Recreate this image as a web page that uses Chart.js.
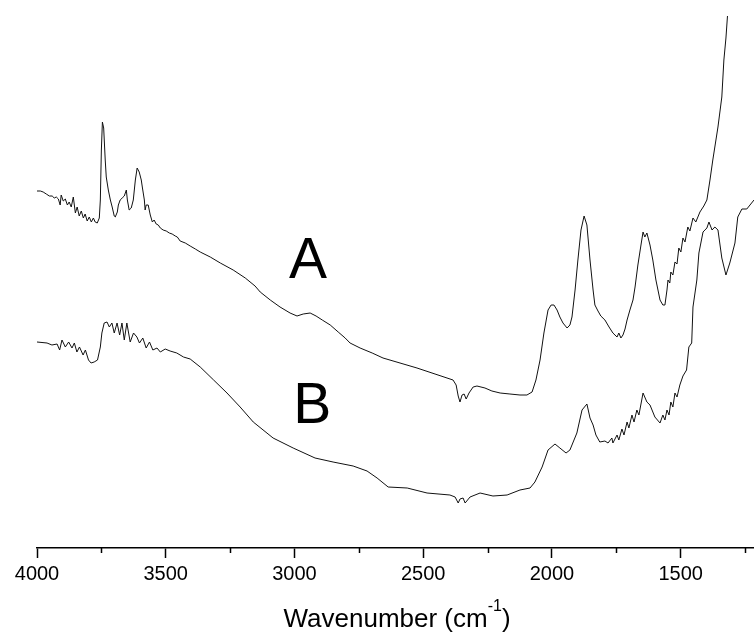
<!DOCTYPE html>
<html>
<head>
<meta charset="utf-8">
<script src="https://cdn.jsdelivr.net/npm/chart.js@4.4.1/dist/chart.umd.min.js"></script>
<style>
  html, body { margin: 0; padding: 0; background: #fff; }
  canvas { display: block; }
</style>
</head>
<body>
<canvas id="irChart" width="754" height="635"></canvas>
<script>
// --- 光譜數據 (wavenumber, a.u.) ---
const waveA = [4000,3987,3976,3964,3952,3941,3933,3925,3917,3910,3906,3898,3890,3882,3875,3867,3859,3851,3844,3836,3828,3820,3813,3805,3797,3789,3781,3774,3766,3758,3754,3750,3746,3741,3735,3731,3723,3715,3708,3700,3696,3688,3684,3677,3669,3661,3653,3649,3642,3634,3626,3618,3611,3603,3595,3591,3583,3580,3576,3568,3560,3552,3545,3537,3529,3521,3510,3498,3486,3475,3463,3455,3444,3424,3405,3385,3366,3327,3288,3238,3191,3153,3133,3094,3056,3017,2990,2966,2939,2916,2892,2861,2830,2803,2784,2745,2698,2656,2590,2524,2454,2384,2372,2364,2357,2349,2341,2333,2322,2306,2291,2260,2233,2201,2163,2124,2097,2077,2062,2046,2031,2015,2003,1992,1980,1969,1957,1941,1930,1922,1910,1899,1887,1875,1864,1852,1840,1833,1821,1810,1794,1778,1763,1747,1740,1732,1724,1716,1708,1697,1685,1677,1666,1654,1646,1639,1631,1619,1608,1596,1580,1569,1561,1553,1549,1542,1538,1530,1522,1514,1507,1499,1491,1483,1472,1464,1452,1441,1425,1410,1398,1386,1375,1355,1340,1332,1324,1318];
const absA = [3.57,3.57,3.56,3.54,3.52,3.52,3.50,3.51,3.49,3.43,3.53,3.47,3.49,3.43,3.46,3.41,3.51,3.35,3.41,3.32,3.37,3.30,3.34,3.27,3.31,3.26,3.30,3.26,3.25,3.30,3.48,3.98,4.26,4.20,3.88,3.71,3.58,3.48,3.41,3.32,3.31,3.36,3.43,3.48,3.50,3.52,3.58,3.48,3.38,3.40,3.48,3.68,3.80,3.76,3.68,3.61,3.48,3.38,3.43,3.43,3.33,3.26,3.28,3.24,3.23,3.20,3.18,3.17,3.15,3.14,3.12,3.11,3.07,3.05,3.02,2.99,2.96,2.91,2.85,2.78,2.70,2.62,2.56,2.48,2.41,2.35,2.32,2.34,2.35,2.32,2.28,2.23,2.16,2.10,2.05,2.00,1.95,1.90,1.85,1.80,1.74,1.68,1.63,1.52,1.46,1.53,1.54,1.49,1.55,1.61,1.62,1.60,1.57,1.55,1.54,1.53,1.53,1.56,1.68,1.88,2.15,2.38,2.43,2.43,2.38,2.31,2.25,2.20,2.23,2.31,2.58,2.88,3.18,3.32,3.23,2.88,2.58,2.43,2.37,2.32,2.28,2.21,2.15,2.11,2.15,2.10,2.13,2.19,2.28,2.38,2.48,2.61,2.83,3.03,3.16,3.11,3.15,3.03,2.88,2.68,2.48,2.43,2.43,2.58,2.68,2.65,2.76,2.73,2.86,2.84,3.00,2.96,3.10,3.06,3.21,3.17,3.30,3.26,3.36,3.42,3.48,3.68,3.88,4.21,4.51,4.88,5.10,5.32];

const waveB = [4000,3961,3942,3922,3912,3903,3890,3877,3864,3855,3845,3835,3821,3812,3800,3790,3778,3765,3754,3748,3739,3728,3719,3709,3700,3689,3679,3670,3661,3651,3638,3625,3612,3602,3589,3576,3563,3550,3534,3521,3502,3483,3457,3431,3405,3366,3314,3262,3211,3160,3083,3005,2920,2850,2772,2718,2679,2636,2562,2485,2396,2376,2364,2357,2345,2337,2318,2279,2229,2174,2124,2085,2066,2038,2015,1988,1969,1945,1930,1903,1883,1864,1852,1840,1829,1814,1794,1782,1767,1763,1747,1740,1728,1720,1708,1701,1689,1681,1670,1662,1646,1631,1619,1600,1580,1569,1561,1553,1545,1538,1530,1522,1514,1503,1491,1477,1468,1457,1452,1437,1429,1413,1398,1390,1378,1367,1355,1340,1324,1309,1289,1278,1262,1243,1215];
const absB = [2.06,2.05,2.03,2.04,1.98,2.08,2.01,2.06,2.00,2.05,1.96,2.01,1.93,1.98,1.88,1.85,1.86,1.88,2.01,2.15,2.25,2.26,2.21,2.25,2.15,2.25,2.13,2.25,2.08,2.25,2.06,2.15,2.11,2.05,2.10,2.00,2.06,1.98,2.00,1.96,1.99,1.97,1.95,1.91,1.89,1.81,1.68,1.55,1.41,1.26,1.10,1.00,0.90,0.86,0.82,0.77,0.70,0.61,0.60,0.55,0.53,0.51,0.45,0.49,0.50,0.45,0.51,0.55,0.52,0.53,0.58,0.60,0.66,0.81,0.98,1.04,1.00,0.95,0.98,1.15,1.38,1.44,1.30,1.23,1.13,1.06,1.07,1.05,1.10,1.05,1.13,1.08,1.19,1.13,1.26,1.20,1.33,1.26,1.38,1.33,1.55,1.46,1.43,1.31,1.25,1.33,1.28,1.38,1.33,1.46,1.41,1.55,1.51,1.63,1.72,1.78,2.01,2.05,2.41,2.68,2.95,3.16,3.20,3.26,3.18,3.21,3.18,2.90,2.73,2.85,3.05,3.31,3.39,3.39,3.48];

// 曲線標籤 A / B
const curveLabels = ['A', 'B'];
const labelWave = [2947, 2931];
const labelAbs = [2.70, 1.25];

// 主刻度與次刻度
const majorTicks = [4000, 3500, 3000, 2500, 2000, 1500];
const minorTicks = [3750, 3250, 2750, 2250, 1750, 1250];

const FONT = "'Liberation Sans', Arial, sans-serif";

const toPoints = (xs, ys) => xs.map((x, i) => ({ x: x, y: ys[i] }));

// --- 自訂繪圖: 次刻度, A/B 標籤, 軸標題 ---
const extrasPlugin = {
    id: 'extras',
    afterDraw(chart) {
        const c = chart.ctx;
        const xs = chart.scales.x;
        const ys = chart.scales.y;
        const axisY = xs.top;

        // 次刻度
        c.save();
        c.strokeStyle = '#000';
        c.lineWidth = 1.5;
        minorTicks.forEach(v => {
            const px = Math.round(xs.getPixelForValue(v)) + 0.5;
            c.beginPath();
            c.moveTo(px, axisY);
            c.lineTo(px, axisY + 5);
            c.stroke();
        });

        // A / B
        c.fillStyle = '#000';
        c.font = '57px ' + FONT;
        c.textAlign = 'center';
        c.textBaseline = 'alphabetic';
        curveLabels.forEach((t, i) => {
            c.fillText(t, xs.getPixelForValue(labelWave[i]), ys.getPixelForValue(labelAbs[i]));
        });

        // 軸標題 Wavenumber (cm-1)
        const mainFont = '26px ' + FONT;
        const supFont = '16px ' + FONT;
        const part1 = 'Wavenumber (cm';
        const sup = '-1';
        const part2 = ')';
        c.font = mainFont;
        const w1 = c.measureText(part1).width;
        const w3 = c.measureText(part2).width;
        c.font = supFont;
        const w2 = c.measureText(sup).width;
        const total = w1 + w2 + w3;
        let x0 = 397 - total / 2;
        const base = 627;
        c.textAlign = 'left';
        c.font = mainFont;
        c.fillText(part1, x0, base);
        c.font = supFont;
        c.fillText(sup, x0 + w1, base - 16);
        c.font = mainFont;
        c.fillText(part2, x0 + w1 + w2, base);
        c.restore();
    }
};

const chart = new Chart(document.getElementById('irChart'), {
    type: 'line',
    data: {
        datasets: [
            { label: 'A', data: toPoints(waveA, absA), borderColor: '#111', borderWidth: 1, pointRadius: 0, tension: 0, fill: false },
            { label: 'B', data: toPoints(waveB, absB), borderColor: '#111', borderWidth: 1, pointRadius: 0, tension: 0, fill: false }
        ]
    },
    options: {
        responsive: false,
        devicePixelRatio: 1,
        animation: false,
        layout: { padding: { left: 37, right: 0, top: 16, bottom: 45 } },
        plugins: {
            legend: { display: false },
            tooltip: { enabled: false }
        },
        scales: {
            x: {
                type: 'linear',
                reverse: true,
                min: 1215,
                max: 4000,
                afterBuildTicks: (scale) => {
                    scale.ticks = majorTicks.map(v => ({ value: v }));
                },
                grid: { drawOnChartArea: false, drawTicks: true, tickLength: 10, tickColor: '#000', tickWidth: 1.5 },
                border: { display: true, color: '#000', width: 1.5 },
                ticks: {
                    autoSkip: false,
                    maxRotation: 0,
                    padding: 4,
                    color: '#000',
                    font: { size: 20, family: FONT },
                    callback: (v) => String(v)
                }
            },
            y: {
                display: false,
                min: 0,
                max: 5.32
            }
        }
    },
    plugins: [extrasPlugin]
});
</script>
</body>
</html>
